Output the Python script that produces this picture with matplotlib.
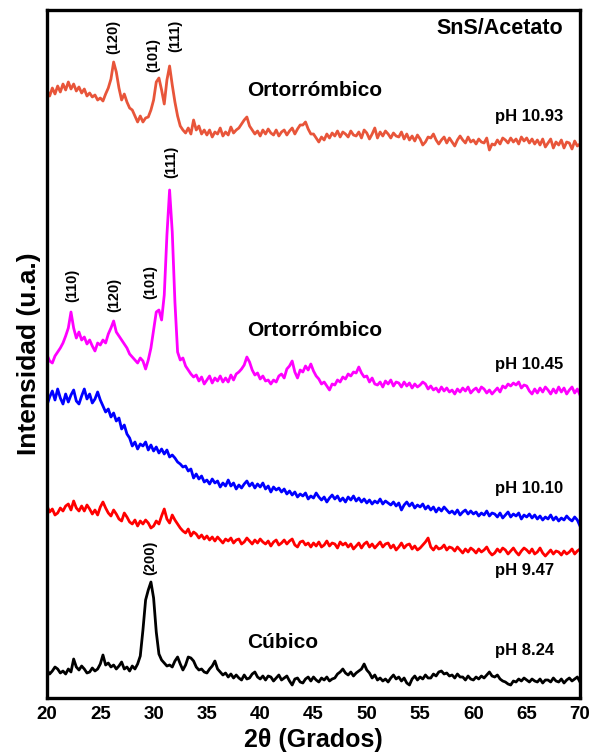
import numpy as np
import matplotlib
matplotlib.use('AGG')
import matplotlib.pyplot as plt

plt.rcParams['font.family'] = ['Liberation Sans', 'DejaVu Sans']
plt.rcParams['font.weight'] = 'bold'

# 2theta grid, 0.25 degree steps
two_theta = np.arange(20.0, 70.001, 0.25)

# intensities (a.u.), already stacked with offsets
ph_1093 = [610, 604, 612, 606, 614, 608, 616, 610, 618, 611, 616, 609, 613, 607, 611, 604, 607, 603, 605, 600,
           602, 599, 606, 612, 621, 638, 628, 612, 600, 606, 598, 592, 590, 584, 578, 584, 578, 582, 583, 590,
           600, 618, 622, 610, 596, 620, 634, 615, 598, 584, 574, 570, 567, 572, 566, 580, 570, 574, 566, 570,
           565, 570, 563, 568, 566, 572, 564, 568, 565, 573, 567, 570, 572, 576, 580, 583, 574, 570, 566, 569,
           564, 570, 566, 571, 567, 565, 570, 564, 568, 570, 565, 569, 572, 566, 571, 575, 575, 578, 571, 566,
           566, 562, 558, 563, 560, 566, 562, 567, 564, 569, 563, 568, 566, 563, 569, 565, 564, 568, 562, 570,
           567, 561, 566, 572, 562, 568, 564, 569, 566, 562, 567, 564, 563, 568, 561, 566, 560, 564, 559, 565,
           561, 555, 558, 563, 562, 566, 560, 556, 560, 563, 557, 562, 558, 554, 560, 564, 560, 557, 563, 558,
           560, 556, 561, 558, 557, 562, 550, 556, 555, 560, 556, 562, 560, 557, 562, 558, 561, 556, 563, 559,
           562, 557, 561, 556, 560, 555, 561, 553, 557, 561, 552, 558, 555, 560, 552, 558, 557, 551, 559, 554,
           556]

ph_1045 = [345, 339, 337, 344, 348, 352, 357, 364, 372, 388, 372, 362, 368, 360, 363, 356, 360, 354, 349, 357,
           355, 360, 357, 366, 372, 379, 368, 364, 360, 356, 352, 346, 343, 340, 337, 342, 339, 331, 340, 352,
           370, 388, 390, 380, 405, 465, 510, 468, 398, 348, 340, 342, 334, 330, 326, 323, 325, 319, 323, 316,
           320, 324, 317, 322, 319, 324, 318, 322, 318, 325, 320, 326, 328, 331, 335, 343, 338, 330, 325, 327,
           321, 324, 319, 320, 316, 320, 318, 324, 326, 322, 331, 334, 339, 328, 322, 330, 328, 334, 330, 336,
           329, 324, 321, 316, 318, 314, 310, 316, 315, 320, 318, 323, 321, 326, 324, 328, 327, 333, 327, 323,
           324, 318, 322, 316, 315, 318, 313, 319, 316, 320, 314, 318, 317, 313, 318, 314, 317, 312, 316, 313,
           315, 318, 316, 311, 314, 310, 312, 308, 313, 309, 312, 308, 310, 306, 311, 308, 312, 309, 313, 307,
           310, 312, 308, 313, 311, 307, 310, 306, 309, 312, 308, 314, 312, 316, 314, 317, 315, 318, 312, 315,
           314, 309, 306, 311, 307, 312, 308, 313, 310, 306, 311, 307, 313, 308, 312, 306, 310, 313, 307, 311,
           305]

ph_1010 = [295, 303, 309, 300, 311, 302, 296, 306, 298, 305, 310, 299, 296, 304, 311, 301, 306, 297, 301, 308,
           300, 294, 288, 291, 283, 287, 279, 282, 271, 275, 266, 262, 254, 258, 251, 256, 254, 258, 250, 255,
           249, 253, 247, 251, 246, 250, 243, 245, 242, 238, 236, 233, 234, 229, 231, 222, 226, 221, 224, 218,
           220, 216, 221, 217, 219, 213, 217, 214, 220, 214, 217, 211, 215, 212, 216, 219, 214, 217, 212, 216,
           213, 217, 211, 214, 208, 213, 210, 212, 208, 211, 206, 209, 205, 208, 203, 206, 204, 207, 201, 204,
           202, 207, 203, 200, 203, 198, 202, 205, 201, 204, 199, 202, 198, 203, 200, 204, 199, 202, 198, 201,
           197, 200, 196, 199, 197, 201, 196, 199, 197, 195, 198, 194, 197, 190, 195, 198, 194, 197, 192, 195,
           193, 196, 191, 194, 190, 193, 188, 192, 189, 193, 190, 187, 189, 186, 190, 185, 188, 190, 186, 189,
           186, 188, 184, 187, 185, 189, 184, 187, 186, 183, 187, 182, 185, 188, 183, 186, 184, 187, 181, 185,
           183, 186, 182, 185, 181, 184, 180, 183, 181, 185, 180, 183, 179, 182, 180, 184, 181, 179, 183, 180,
           174]

ph_947 = [194, 188, 191, 185, 187, 192, 189, 194, 196, 190, 199, 192, 189, 194, 189, 195, 191, 186, 190, 185,
          193, 198, 192, 187, 184, 190, 186, 181, 179, 187, 183, 178, 176, 180, 174, 179, 176, 180, 177, 172,
          174, 179, 176, 184, 191, 181, 177, 185, 180, 176, 172, 169, 167, 171, 164, 168, 166, 162, 165, 161,
          164, 160, 163, 159, 163, 160, 157, 161, 159, 162, 157, 160, 161, 156, 158, 162, 159, 156, 160, 157,
          161, 158, 156, 159, 154, 158, 160, 155, 157, 160, 156, 159, 161, 155, 153, 158, 159, 155, 157, 153,
          157, 154, 158, 153, 155, 159, 154, 157, 156, 152, 158, 155, 157, 153, 156, 151, 154, 157, 152, 156,
          158, 153, 156, 152, 155, 158, 153, 156, 157, 152, 155, 150, 153, 157, 152, 155, 156, 151, 154, 150,
          152, 155, 158, 162, 153, 150, 154, 151, 152, 155, 150, 153, 152, 149, 153, 150, 147, 151, 148, 152,
          150, 147, 151, 148, 150, 153, 148, 145, 147, 151, 148, 152, 150, 146, 149, 152, 148, 145, 149, 152,
          150, 147, 151, 146, 148, 152, 147, 144, 147, 150, 146, 149, 148, 145, 149, 146, 148, 151, 146, 149,
          151]

ph_824 = [30, 26, 29, 33, 31, 27, 29, 26, 31, 28, 41, 33, 30, 34, 31, 27, 28, 32, 29, 31,
          36, 45, 35, 37, 33, 35, 31, 34, 38, 31, 33, 29, 34, 31, 36, 44, 70, 100, 110, 118,
          102, 68, 46, 40, 37, 34, 35, 33, 39, 43, 36, 30, 35, 43, 42, 39, 33, 30, 31, 28,
          27, 31, 34, 39, 31, 28, 25, 27, 23, 26, 22, 25, 22, 20, 25, 21, 22, 26, 28, 23,
          21, 24, 20, 24, 23, 19, 22, 25, 20, 22, 24, 19, 15, 21, 22, 18, 17, 21, 23, 19,
          23, 20, 18, 22, 20, 23, 19, 21, 22, 26, 28, 31, 27, 25, 28, 24, 27, 29, 31, 36,
          30, 27, 22, 25, 20, 22, 19, 21, 18, 22, 25, 21, 23, 19, 22, 17, 15, 21, 24, 20,
          23, 21, 25, 22, 22, 26, 24, 28, 29, 26, 27, 24, 25, 22, 26, 23, 23, 20, 24, 21,
          20, 23, 21, 24, 22, 25, 28, 24, 23, 25, 21, 19, 18, 16, 15, 19, 18, 21, 19, 22,
          20, 18, 21, 19, 18, 21, 17, 20, 20, 18, 22, 19, 18, 21, 17, 20, 22, 19, 21, 23,
          18]

series = [ph_1093, ph_1045, ph_1010, ph_947, ph_824]
colors = ['#E8553A', '#FF00FF', '#0000FF', '#FF0000', '#000000']
ph_labels = ['pH 10.93', 'pH 10.45', 'pH 10.10', 'pH 9.47', 'pH 8.24']
ph_label_y = [584, 335, 212, 129, 50]

# miller indices: (label, 2theta, height)
peaks = [('(120)', 26.2, 663), ('(101)', 30.0, 645), ('(111)', 32.0, 664),
         ('(111)', 31.7, 538), ('(110)', 22.4, 415), ('(120)', 26.3, 405), ('(101)', 29.7, 418),
         ('(200)', 29.7, 142)]

fig = plt.figure(figsize=(5.89, 7.55), dpi=100)
ax = fig.add_axes([47/589, 1-698/755, 533/589, 688/755])

for y, c in zip(series, colors):
    ax.plot(two_theta, y, color=c, lw=2.0)

for lab, yy in zip(ph_labels, ph_label_y):
    ax.text(62.0, yy, lab, fontsize=12, fontweight='bold', ha='left', va='center')

for lab, xx, yy in peaks:
    ax.text(xx, yy, lab, fontsize=10.5, fontweight='bold', rotation=90, ha='center', va='center')

ax.text(45.1, 610, 'Ortorrómbico', fontsize=15, fontweight='bold', ha='center', va='center')
ax.text(45.1, 370, 'Ortorrómbico', fontsize=15, fontweight='bold', ha='center', va='center')
ax.text(42.1, 58, 'Cúbico', fontsize=15, fontweight='bold', ha='center', va='center')
ax.text(68.4, 672, 'SnS/Acetato', fontsize=15.5, fontweight='bold', ha='right', va='center')

ax.set_xlim(20, 70)
ax.set_ylim(2, 690)
ax.set_xticks(range(20, 71, 5))
ax.set_yticks([])
ax.tick_params(axis='x', length=0, pad=6, labelsize=13.5)
for lbl in ax.get_xticklabels():
    lbl.set_fontweight('bold')
for sp in ax.spines.values():
    sp.set_linewidth(2.4)

ax.set_xlabel('2θ (Grados)', fontsize=18, fontweight='bold', labelpad=3)
ax.set_ylabel('Intensidad (u.a.)', fontsize=19, fontweight='bold', labelpad=4)

plt.savefig('out.png', dpi=100)
plt.close()
